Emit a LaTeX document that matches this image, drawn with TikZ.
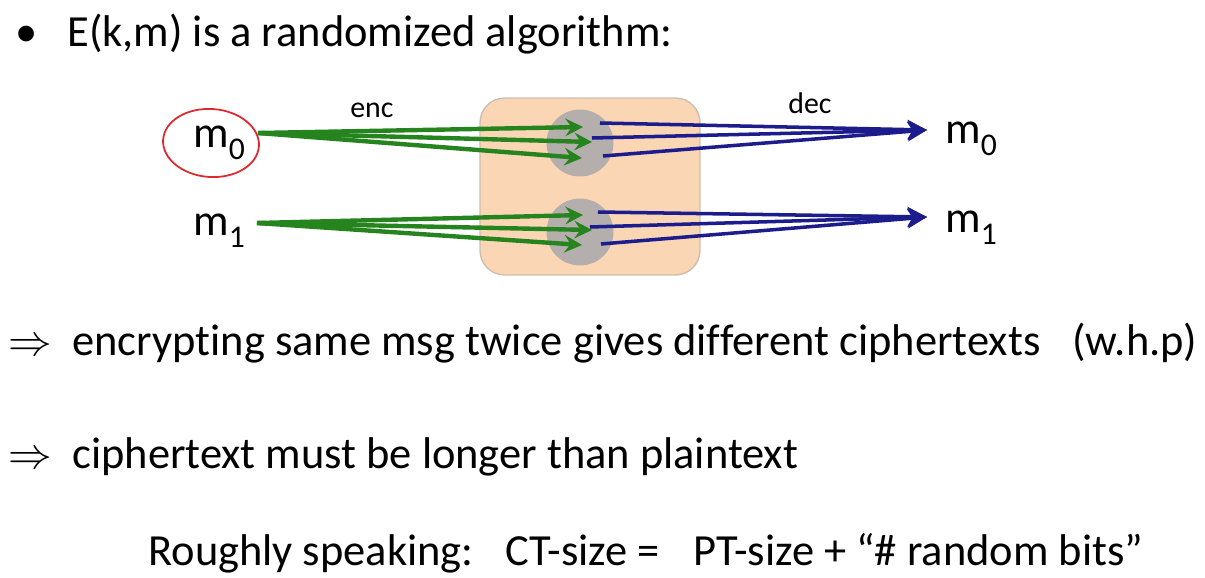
\documentclass[tikz,border=0pt]{standalone}
\usepackage{fontspec}
\setmainfont{Carlito}[Ligatures=NoCommon]
\usetikzlibrary{arrows.meta}

\definecolor{encgreen}{RGB}{38,132,30}
\definecolor{decblue}{RGB}{28,28,140}
\definecolor{boxfill}{RGB}{250,214,180}
\definecolor{boxline}{RGB}{205,190,175}
\definecolor{ballgray}{RGB}{168,168,172}
\definecolor{penred}{RGB}{222,40,45}

\newcommand{\msg}[1]{m\raisebox{-0.6ex}{\fontsize{18}{18}\selectfont #1}}

\begin{document}
\begin{tikzpicture}
  [x=0.02cm, y=-0.02cm,
    every node/.style={inner sep=0pt, font=\fontsize{25.3}{28}\selectfont},
    txt/.style={anchor=base west},
    lbl/.style={anchor=base west, font=\fontsize{17}{20}\selectfont},
    algbox/.style={draw=boxline, fill=boxfill, rounded corners=14pt, line width=0.8pt},
    ball/.style={circle, fill=ballgray, opacity=0.85, minimum size=1.34cm},
    encarr/.style={draw=encgreen, line width=2.5pt, -{Stealth[length=10pt,width=10pt,inset=3.5pt]}},
    decarr/.style={draw=decblue, line width=2pt, -{Stealth[length=11pt,width=11pt,inset=3pt]}},
]
\useasboundingbox (0,0) rectangle (1205,578);

% first bullet
\node[txt] (dot) at (15,47) {•};
\node[txt] (head) at (67,47) {E(k,m) is a randomized algorithm:};

% the box and the two balls
\node[algbox, minimum width=4.4cm, minimum height=3.54cm] (alg) at (590,186.5) {};
\node[ball] (c0) at (580,143) {};
\node[ball] (c1) at (580,232) {};

% messages
\node[txt] (m0) at (193,147) {\msg{0}};
\node[txt] (m1) at (193,235) {\msg{1}};
\node[txt] (r0) at (945,143) {\msg{0}};
\node[txt] (r1) at (945,232) {\msg{1}};
\node[lbl] (enc) at (350,117) {enc};
\node[lbl] (dec) at (788,113) {dec};

\draw[penred, line width=1pt, rotate around={-4:(211,143)}] (211,143) ellipse [x radius=48, y radius=34];

\coordinate (s0) at (258,133);
\coordinate (s1) at (257,223);
\coordinate (t0) at (927,130);
\coordinate (t1) at (927,217);

% enc and dec fans
\foreach \ex/\ey/\bx/\by [count=\i] in {583/127/600/123, 592/142/592/138, 582/158/603/156} {
  \coordinate (e0-\i) at (\ex,\ey);
  \coordinate (d0-\i) at (\bx,\by);
  \draw[encarr] (s0) -- (e0-\i);
  \draw[decarr] (d0-\i) -- (t0);
}
\foreach \ex/\ey/\bx/\by [count=\i] in {583/215/598/212, 592/230/590/227, 582/245/601/244} {
  \coordinate (e1-\i) at (\ex,\ey);
  \coordinate (d1-\i) at (\bx,\by);
  \draw[encarr] (s1) -- (e1-\i);
  \draw[decarr] (d1-\i) -- (t1);
}

% consequences
\node[txt] (imp1) at (8,355) {$\Rightarrow$};
\node[txt] (l1) at (72,355) {encrypting same msg twice gives different ciphertexts};
\node[txt] (whp) at (1072,355) {(w.h.p)};
\node[txt] (imp2) at (8,468) {$\Rightarrow$};
\node[txt] (l2) at (72,468) {ciphertext must be longer than plaintext};
\node[txt] (rs) at (148,565) {Roughly speaking:};
\node[txt] (ct) at (505,565) {CT-size =};
\node[txt] (pt) at (693,565) {PT-size + “\# random bits”};
\end{tikzpicture}
\end{document}
